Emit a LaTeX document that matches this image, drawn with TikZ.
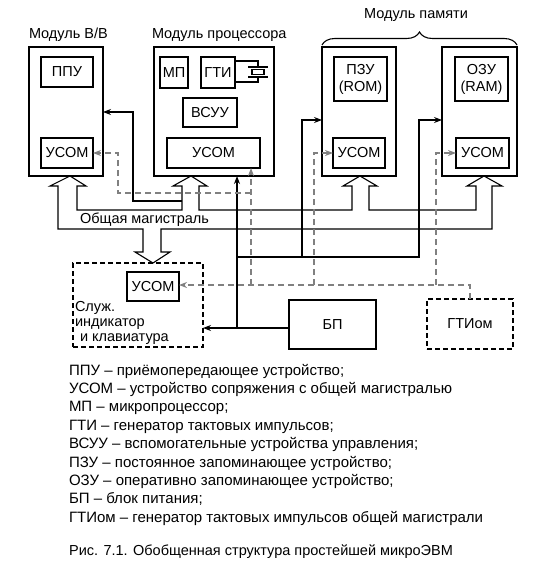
\documentclass[tikz,border=0pt]{standalone}
\usepackage{fontspec}
\setmainfont{Liberation Sans}
\usetikzlibrary{arrows.meta,decorations.pathreplacing}
\definecolor{clkgray}{gray}{0.5}

\begin{document}
\begin{tikzpicture}[x=1pt, y=-1pt,
    >={Stealth[length=8pt, width=6pt]},
    every node/.style={font=\fontsize{14.5}{17}\selectfont, inner sep=0pt, outer sep=0pt},
    box/.style args={#1x#2}{draw, line width=1.1pt, minimum width=#1, minimum height=#2, align=center},
    dbox/.style args={#1x#2}{draw, line width=2.4pt, dash pattern=on 5pt off 3pt, minimum width=#1, minimum height=#2},
    wire/.style={line width=1.1pt},
    clk/.style={draw=clkgray, line width=2.5pt, dash pattern=on 6pt off 4pt}
]
\useasboundingbox (0,0) rectangle (554,575);

% modules
\node[box=74x129] (bv) at (66,111.5) {};
\node[box=120x129] (proc) at (214,111.5) {};
\node[box=74x129] (rom) at (359,111.5) {};
\node[box=75x129] (ram) at (479.5,111.5) {};

\node[anchor=west] (lbv) at (29,35) {Модуль В/В};
\node[anchor=west] (lproc) at (152,35) {Модуль процессора};
\node (lmem) at (416,15) {Модуль памяти};
\draw[wire, decorate, decoration={brace, amplitude=13pt}] (322,45) -- (517,45);

% inner blocks
\node[box=52x30] (ppu) at (67,72) {ППУ};
\node[box=52x30] (usomA) at (67,153) {УСОМ};
\node[box=28x31] (mp) at (174,72.5) {МП};
\node[box=34x31] (gti) at (218,72.5) {ГТИ};
\node[box=54x29] (vsuu) at (210,112.5) {ВСУУ};
\node[box=93x30] (usomP) at (213.5,153) {УСОМ};
\node[box=53x44] (pzu) at (360.5,79) {ПЗУ\\(ROM)};
\node[box=52x30] (usomR) at (359,153) {УСОМ};
\node[box=53x44] (ozu) at (481.5,79) {ОЗУ\\(RAM)};
\node[box=53x30] (usomM) at (482.5,153) {УСОМ};

% crystal
\draw[wire] (gti.east |- 0,61) -- (258,61) -- (258,67)
    (248,67) -- (268,67) (252,69.5) rectangle (264,74.5) (248,77) -- (268,77)
    (258,77) -- (258,82) -- (gti.east |- 0,82);

% lower part
\node[dbox=130x84] (kbd) at (138,305) {};
\node[box=52x29] (usomK) at (153,286.5) {УСОМ};
\node[anchor=north west, align=left, font=\fontsize{14.5}{15}\selectfont] (kbdtxt) at (75,301)
    {Служ.\\индикатор\\\hspace*{5pt}и клавиатура};
\node[box=87x49] (bp) at (332.5,324.5) {БП};
\node[dbox=86x50] (gtiom) at (470,324) {ГТИом};

% common bus
\draw[wire] (143,252) -- (143,229) -- (58,229) -- (58,186) -- (50,186) -- (70,176)
    -- (86,186) -- (77,186) -- (77,210) -- (182,210) -- (182,186) -- (173,186)
    -- (191,176) -- (207,186) -- (199,186) -- (199,210) -- (352,210) -- (352,186)
    -- (343,186) -- (360,176) -- (377,186) -- (369,186) -- (369,210) -- (476,210)
    -- (476,186) -- (467,186) -- (484,176) -- (502,186) -- (492,186) -- (492,229)
    -- (161,229) -- (161,252) -- (170,252) -- (153,263) -- (135,252) -- cycle;
\node[anchor=west] (lbus) at (80,220) {Общая магистраль};

% power
\coordinate (pk) at (237,328);
\coordinate (pj) at (237,257);
\draw[wire,->] (bp.west |- pk) -- (kbd.east |- pk);
\draw[wire,->] (pk) -- (proc.south -| pk);
\draw[wire,->] (pj) -- (419,257) -- (419,120) -- (ram.west |- 0,120);
\draw[wire,->] (302,257) -- (302,120) -- (rom.west |- 0,120);
\draw[wire,->] (182,201) -- (133,201) -- (133,112) -- (bv.east |- 0,112);

% clock of the bus
\coordinate (ck) at (470,285);
\draw[clk,->] (gtiom.north) -- (ck) -- (usomK.east |- ck);
\draw[clk,->] (251,285) -- (usomP.south -| 251,0);
\draw[clk,->] (314,285) -- (314,153) -- (usomR.west);
\draw[clk,->] (436,285) -- (436,153) -- (usomM.west);
\draw[clk,->] (251,193) -- (118,193) -- (118,153) -- (usomA.east);

% legend
\node[anchor=north west, align=left, font=\fontsize{15}{18.4}\selectfont] (legend) at (69,364)
    {ППУ – приёмопередающее устройство;\\
     УСОМ – устройство сопряжения с общей магистралью\\
     МП – микропроцессор;\\
     ГТИ – генератор тактовых импульсов;\\
     ВСУУ – вспомогательные устройства управления;\\
     ПЗУ – постоянное запоминающее устройство;\\
     ОЗУ – оперативно запоминающее устройство;\\
     БП – блок питания;\\
     ГТИом – генератор тактовых импульсов общей магистрали};
\node (caption) at (261,552) {Рис. 7.1. Обобщенная структура простейшей микроЭВМ};

\end{tikzpicture}
\end{document}
